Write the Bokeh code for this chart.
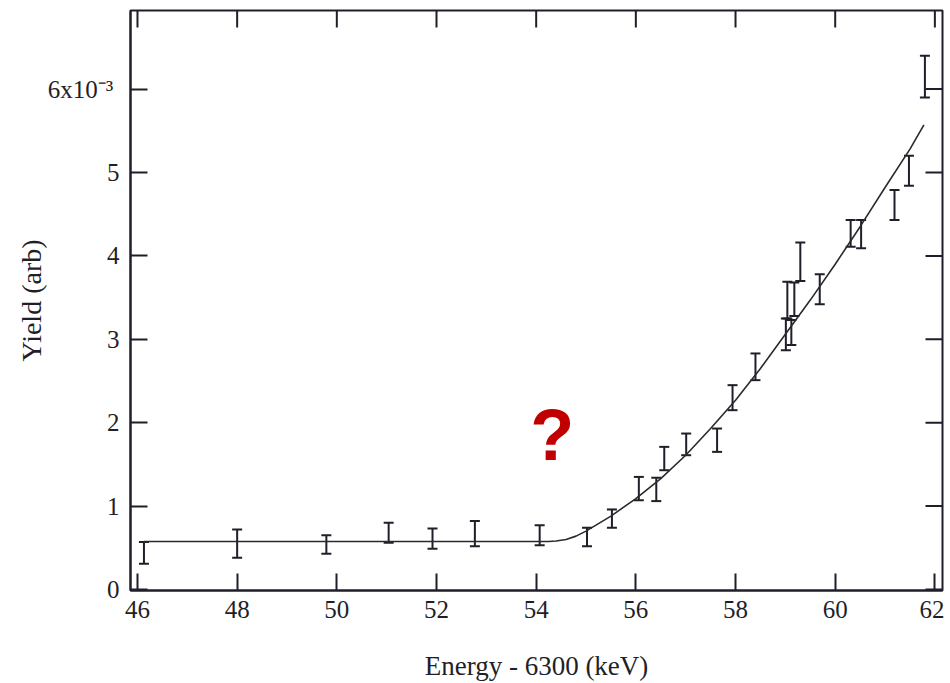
import math
from bokeh.plotting import figure
from bokeh.models import (ColumnDataSource, Whisker, TeeHead, FixedTicker, Label, Range1d)
from bokeh.embed import file_html
from bokeh.resources import INLINE

# ---- data (energy - 6300 keV, yield in units of 1e-3) ----
energy = [46.13, 48.00, 49.79, 51.04, 51.92, 52.77, 54.07, 55.02, 55.52, 56.06,
          56.41, 56.57, 57.01, 57.63, 57.94, 58.40, 59.01, 59.12, 59.04, 59.18,
          59.30, 59.69, 60.31, 60.52, 61.19, 61.48, 61.80]
yield_ = [0.44, 0.55, 0.54, 0.68, 0.61, 0.67, 0.65, 0.63, 0.85, 1.21,
          1.20, 1.57, 1.74, 1.79, 2.30, 2.67, 3.06, 3.08, 3.47, 3.48,
          3.93, 3.60, 4.27, 4.26, 4.61, 5.02, 6.15]
err = [0.13, 0.17, 0.11, 0.12, 0.12, 0.15, 0.12, 0.11, 0.11, 0.14,
       0.14, 0.14, 0.13, 0.14, 0.15, 0.16, 0.19, 0.15, 0.22, 0.20,
       0.23, 0.18, 0.16, 0.17, 0.18, 0.18, 0.25]

fit_energy = [46.13, 54.25, 54.40, 54.60, 54.80, 55.00, 55.50, 56.00, 56.50, 57.00, 57.50,
              58.00, 58.50, 59.00, 59.50, 60.00, 60.50, 61.00, 61.50, 61.78]
fit_yield = [0.576, 0.576, 0.582, 0.60, 0.64, 0.70, 0.88, 1.09, 1.33, 1.61, 1.93,
             2.27, 2.65, 3.06, 3.47, 3.90, 4.35, 4.82, 5.28, 5.57]

x_ticks = [46, 48, 50, 52, 54, 56, 58, 60, 62]
y_ticks = [0, 1, 2, 3, 4, 5, 6]
y_tick_labels = {0: "0", 1: "1", 2: "2", 3: "3", 4: "4", 5: "5",
                 6: "6x10\u207b\u00b3\u00a0"}
x_label = "Energy - 6300 (keV)"
y_label = "Yield (arb)"
mark_text = "?"
mark_x, mark_y = 54.32, 1.85

X_RANGE = (45.86, 62.153)
Y_RANGE = (-0.012, 6.942)

INK = "#1f1f2a"
SERIF = "Liberation Serif"
TICK_LEN = 17

lower = [v - e for v, e in zip(yield_, err)]
upper = [v + e for v, e in zip(yield_, err)]
src = ColumnDataSource(dict(x=energy, y=yield_, lower=lower, upper=upper))
fit_src = ColumnDataSource(dict(x=fit_energy, y=fit_yield))

p = figure(width=944, height=683, output_backend="svg", toolbar_location=None,
           x_range=Range1d(*X_RANGE), y_range=Range1d(*Y_RANGE),
           min_border_left=130, min_border_right=2, min_border_top=10,
           min_border_bottom=93)
p.grid.visible = False
p.background_fill_color = "white"
p.border_fill_color = "white"
p.outline_line_color = INK
p.outline_line_width = 2

# fit curve
p.line("x", "y", source=fit_src, line_color="#2a2a2a", line_width=1.6)

# error bars
wh = Whisker(base="x", upper="upper", lower="lower", source=src, dimension="height",
             line_color=INK, line_width=2,
             upper_head=TeeHead(size=10, line_color=INK, line_width=2),
             lower_head=TeeHead(size=10, line_color=INK, line_width=2))
p.add_layout(wh)

# mirrored inward ticks on the top and right frame edges
p.ray(x=x_ticks, y=[Y_RANGE[1]] * len(x_ticks), length=TICK_LEN, length_units="screen",
      angle=-math.pi / 2, line_color=INK, line_width=2)
p.ray(x=[X_RANGE[1]] * len(y_ticks), y=y_ticks, length=TICK_LEN, length_units="screen",
      angle=math.pi, line_color=INK, line_width=2)


def style_axis(ax):
    ax.axis_line_color = INK
    ax.axis_line_width = 2
    ax.major_tick_line_color = INK
    ax.major_tick_line_width = 2
    ax.major_tick_in = TICK_LEN
    ax.major_tick_out = 0
    ax.minor_tick_line_color = None
    ax.major_label_text_font = SERIF
    ax.major_label_text_font_size = "25px"
    ax.major_label_text_color = INK
    ax.axis_label_text_font = SERIF
    ax.axis_label_text_font_style = "normal"
    ax.axis_label_text_color = INK


xa = p.xaxis[0]
xa.ticker = FixedTicker(ticks=x_ticks)
style_axis(xa)
xa.major_label_standoff = 10
xa.axis_label = x_label
xa.axis_label_text_font_size = "27px"
xa.axis_label_standoff = 30

ya = p.yaxis[0]
ya.ticker = FixedTicker(ticks=y_ticks)
style_axis(ya)
ya.major_label_overrides = y_tick_labels
ya.major_label_standoff = 11
ya.axis_label = y_label
ya.axis_label_text_font_size = "28px"
ya.axis_label_standoff = -2

# red question mark
p.add_layout(Label(x=mark_x, y=mark_y, text=mark_text, text_align="center",
                   text_baseline="middle", text_font="Liberation Sans",
                   text_font_style="bold", text_font_size="72px", text_color="#c00000"))

open("out.html", "w").write(file_html(p, INLINE))
